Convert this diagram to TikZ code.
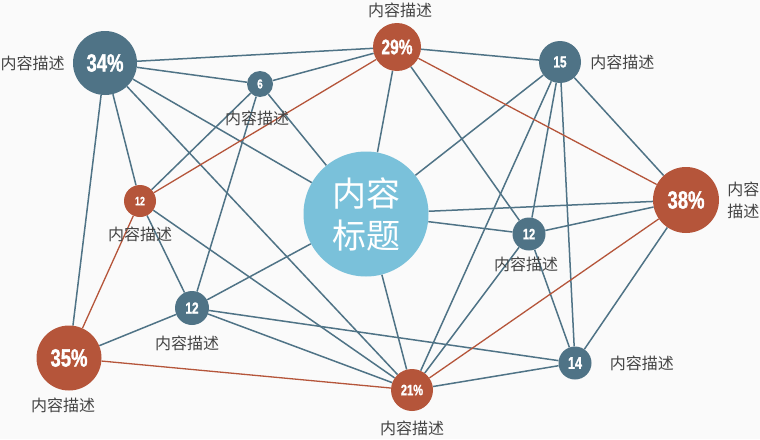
\documentclass[tikz,border=0pt]{standalone}
\usepackage{fontspec}
\setmainfont{Liberation Sans}
\newfontfamily\cjk{Noto Sans CJK SC}
\newfontfamily\numfont[FakeStretch=0.74,BoldFeatures={FakeBold=1.2}]{Liberation Sans}
\usetikzlibrary{positioning,backgrounds}
\definecolor{slate}{HTML}{4F7386}
\definecolor{rust}{HTML}{B5553A}
\definecolor{sky}{HTML}{7AC1DA}
\definecolor{paper}{HTML}{FAFAFA}
\definecolor{ink}{HTML}{444444}

\begin{document}
\begin{tikzpicture}[x=1pt, y=-1pt,
          point/.style={circle, inner sep=0pt, text=white, font=\numfont\bfseries\fontsize{#1}{#1}\selectfont},
          cool/.style={point=#1, fill=slate},
          warm/.style={point=#1, fill=rust},
          desc/.style={inner sep=0pt, text=ink, align=center, font=\cjk\fontsize{16}{22}\selectfont},
          link/.style={draw=slate, line width=1.5pt},
          hot/.style={draw=rust, line width=1.3pt}]
          \useasboundingbox (0,0) rectangle (760,439);
          \node[cool=25, minimum size=64pt](0)  at (105,63)  {34\%};
          \node[cool=13, minimum size=26pt](1)  at (260,84)  {6};
          \node[warm=21, minimum size=48pt](2)  at (397,47)  {29\%};
          \node[cool=16, minimum size=42pt](3)  at (560,62)  {15};
          \node[warm=25, minimum size=66pt](4)  at (686,200) {38\%};
          \node[circle, fill=sky, minimum size=125pt, inner sep=0pt, text=white, align=center,
                font=\cjk\fontsize{34}{42}\selectfont](5) at (366,214) {内容\\标题};
          \node[warm=12, minimum size=32pt](6)  at (140,201) {12};
          \node[cool=15, minimum size=33pt](7)  at (529,234) {12};
          \node[cool=16, minimum size=34pt](8)  at (192,308) {12};
          \node[warm=25, minimum size=65pt](9)  at (69,358)  {35\%};
          \node[warm=15, minimum size=42pt](10) at (412,390) {21\%};
          \node[cool=17, minimum size=33pt](11) at (575,363) {14};
          \node[desc](d0)  [left = 8pt of 0]                {内容描述};
          \node[desc](d1)  [below = 14pt of 1, xshift=-3pt] {内容描述};
          \node[desc](d2)  [above = 5pt of 2, xshift=3pt]   {内容描述};
          \node[desc](d3)  [right = 9pt of 3]               {内容描述};
          \node[desc](d4)  [right = 8pt of 4]               {内容\\描述};
          \node[desc](d6)  [below = 10pt of 6]              {内容描述};
          \node[desc](d7)  [below = 6pt of 7, xshift=-3pt]  {内容描述};
          \node[desc](d8)  [below = 11pt of 8, xshift=-5pt] {内容描述};
          \node[desc](d9)  [below = 7pt of 9, xshift=-6pt]  {内容描述};
          \node[desc](d10) [below = 10pt of 10]             {内容描述};
          \node[desc](d11) [right = 18pt of 11]             {内容描述};
        \begin{scope}[on background layer]
          \fill[paper] (0,0) rectangle (760,439);
        \path[link]
          (0) edge (2)
          (0) edge (1)
          (0) edge (5)
          (0) edge (10)
          (0) edge (6)
          (0) edge (9)
          (1) edge (2)
          (1) edge (6)
          (1) edge (8)
          (1) edge (5)
          (2) edge (3)
          (2) edge (5)
          (2) edge (7)
          (3) edge (4)
          (3) edge (5)
          (3) edge (10)
          (3) edge (7)
          (3) edge (11)
          (4) edge (5)
          (4) edge (7)
          (4) edge (11)
          (5) edge (7)
          (5) edge (10)
          (5) edge (8)
          (6) edge (8)
          (6) edge (10)
          (7) edge (10)
          (7) edge (11)
          (8) edge (9)
          (8) edge (11)
          (8) edge (10)
          (10) edge (11)
          ;
        \path[hot]
          (2) edge (4)
          (2) edge (6)
          (6) edge (9)
          (9) edge (10)
          (4) edge (10)
          ;
        \end{scope}
      \end{tikzpicture}
\end{document}
